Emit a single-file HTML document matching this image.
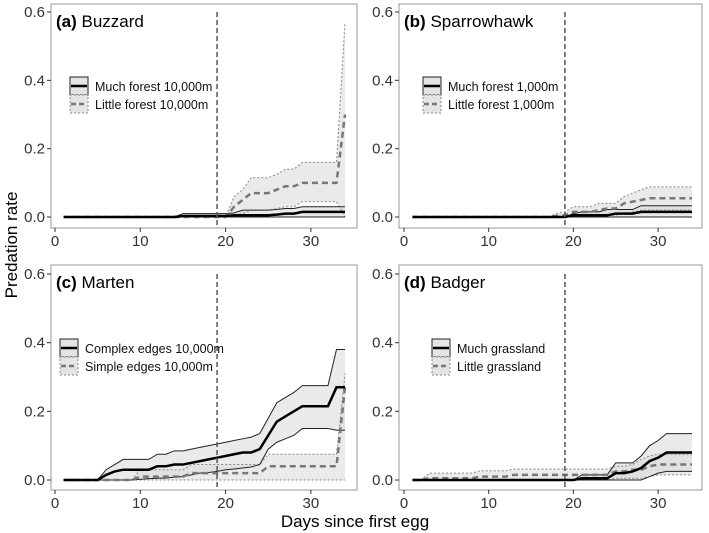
<!DOCTYPE html>
<html><head><meta charset="utf-8"><style>
body{margin:0;background:#fff;}
svg{display:block;font-family:"Liberation Sans",sans-serif;}
</style></head><body>
<svg id="chart" width="709" height="533" xmlns="http://www.w3.org/2000/svg">
<text x="17" y="245" font-size="17" text-anchor="middle" transform="rotate(-90 17 245)" fill="#000">Predation rate</text>
<text x="355" y="527" font-size="17" text-anchor="middle" fill="#000">Days since first egg</text>
</svg>
<script>
const days = Array.from({length:34},(_,i)=>i+1);
const xTicks = [0,10,20,30];
const yTicks = [0,0.2,0.4,0.6];
const yTickLabels = ["0.0","0.2","0.4","0.6"];
const titlesBold = ["(a)","(b)","(c)","(d)"];
const titles = ["Buzzard","Sparrowhawk","Marten","Badger"];
const legendA = ["Much forest 10,000m","Much forest 1,000m","Complex edges 10,000m","Much grassland"];
const legendB = ["Little forest 10,000m","Little forest 1,000m","Simple edges 10,000m","Little grassland"];
const refDay = 19;

// panel a
const aMean1=[0,0,0,0,0,0,0,0,0,0,0,0,0,0,.003,.003,.003,.003,.003,.003,.005,.005,.005,.005,.005,.007,.01,.01,.015,.015,.015,.015,.015,.015];
const aHi1=[0,0,0,0,0,0,0,0,0,0,0,0,0,0,.01,.01,.01,.01,.01,.01,.012,.02,.02,.02,.02,.022,.025,.025,.03,.03,.03,.03,.03,.03];
const aLo1=new Array(34).fill(0);
const aMean2=[0,0,0,0,0,0,0,0,0,0,0,0,0,0,0,0,0,0,0,0,.03,.05,.07,.07,.07,.08,.09,.09,.1,.1,.1,.1,.1,.3];
const aHi2=[0,0,0,0,0,0,0,0,0,0,0,0,0,0,0,0,0,0,0,0,.06,.08,.115,.115,.115,.125,.14,.14,.16,.16,.16,.16,.16,.57];
const aLo2=[0,0,0,0,0,0,0,0,0,0,0,0,0,0,0,0,0,0,0,0,.005,.01,.02,.02,.02,.025,.03,.03,.045,.045,.045,.045,.045,0];
// panel b
const bMean1=[0,0,0,0,0,0,0,0,0,0,0,0,0,0,0,0,0,0,0,.005,.005,.005,.005,.005,.01,.01,.01,.015,.015,.015,.015,.015,.015,.015];
const bHi1=[0,0,0,0,0,0,0,0,0,0,0,0,0,0,0,0,0,0,0,.01,.015,.015,.015,.022,.022,.022,.022,.033,.033,.033,.033,.033,.033,.033];
const bLo1=new Array(34).fill(0);
const bMean2=[0,0,0,0,0,0,0,0,0,0,0,0,0,0,0,0,0,.003,.005,.015,.015,.015,.02,.025,.025,.04,.045,.05,.055,.055,.055,.055,.055,.055];
const bHi2=[0,0,0,0,0,0,0,0,0,0,0,0,0,0,0,0,0,.01,.015,.03,.03,.03,.04,.04,.04,.06,.07,.08,.088,.088,.088,.088,.088,.088];
const bLo2=[0,0,0,0,0,0,0,0,0,0,0,0,0,0,0,0,0,0,0,.005,.005,.005,.005,.005,.005,.01,.015,.02,.02,.02,.02,.02,.02,.02];
// panel c
const cMean1=[0,0,0,0,0,.015,.025,.03,.03,.03,.03,.04,.04,.045,.045,.05,.055,.06,.065,.07,.075,.08,.08,.09,.13,.17,.185,.2,.215,.215,.215,.215,.27,.27];
const cHi1=[0,0,0,0,0,.03,.045,.06,.06,.06,.06,.075,.075,.085,.085,.09,.095,.1,.105,.11,.115,.12,.125,.135,.18,.225,.24,.255,.275,.275,.275,.275,.38,.38];
const cLo1=[0,0,0,0,0,0,0,0,0,.002,.004,.005,.006,.008,.01,.015,.02,.022,.025,.03,.032,.035,.038,.045,.09,.11,.12,.13,.15,.15,.15,.15,.145,.145];
const cMean2=[0,0,0,0,0,0,0,0,0,.01,.01,.01,.01,.01,.01,.02,.02,.02,.02,.02,.02,.02,.02,.02,.04,.04,.04,.04,.04,.04,.04,.04,.04,.27];
const cHi2=[0,0,0,0,0,0,0,0,0,.03,.03,.03,.03,.03,.03,.045,.045,.045,.045,.045,.045,.045,.045,.045,.075,.075,.075,.075,.075,.075,.075,.075,.075,.31];
const cLo2=new Array(34).fill(0);
// panel d
const dMean1=[0,0,0,0,0,0,0,0,0,0,0,0,0,0,0,0,0,0,0,0,.005,.005,.005,.005,.02,.02,.025,.035,.055,.065,.08,.08,.08,.08];
const dHi1=[0,0,0,0,0,0,0,0,0,0,0,0,0,0,0,0,0,0,0,0,.015,.015,.015,.015,.05,.05,.05,.07,.1,.115,.135,.135,.135,.135];
const dLo1=[0,0,0,0,0,0,0,0,0,0,0,0,0,0,0,0,0,0,0,0,0,0,0,0,0,0,0,0,.01,.02,.025,.025,.025,.025];
const dMean2=[0,0,.005,.005,.005,.005,.005,.005,.01,.01,.01,.01,.015,.015,.015,.015,.015,.015,.015,.015,.015,.015,.015,.015,.025,.025,.03,.03,.04,.045,.045,.045,.045,.045];
const dHi2=[0,0,.02,.02,.02,.02,.02,.02,.027,.027,.027,.027,.032,.032,.032,.032,.032,.032,.032,.032,.032,.032,.032,.032,.04,.04,.045,.06,.07,.075,.075,.075,.075,.075];
const dLo2=[0,0,0,0,0,0,0,0,0,0,0,0,0,0,0,0,0,0,0,0,0,0,0,0,.005,.005,.005,.005,.01,.015,.015,.015,.015,.015];

const panelSeries=[
 [aMean1,aLo1,aHi1,aMean2,aLo2,aHi2],
 [bMean1,bLo1,bHi1,bMean2,bLo2,bHi2],
 [cMean1,cLo1,cHi1,cMean2,cLo2,cHi2],
 [dMean1,dLo1,dHi1,dMean2,dLo2,dHi2]];
const frames=[
 {fx:51,fy:4,fw:306,fh:224,x0:55,xs:8.53,y0:217,ys:341.7,lx:70,ly:77},
 {fx:399,fy:4,fw:303,fh:224,x0:404,xs:8.47,y0:217,ys:341.7,lx:423,ly:77},
 {fx:51,fy:265,fw:306,fh:225,x0:55,xs:8.53,y0:480,ys:343.3,lx:60,ly:339},
 {fx:399,fy:265,fw:303,fh:225,x0:404,xs:8.47,y0:480,ys:343.3,lx:432,ly:339}];
const svg=document.getElementById('chart');
const NS="http://www.w3.org/2000/svg";
function mk(tag,attrs,parent){const e=document.createElementNS(NS,tag);for(const k in attrs)e.setAttribute(k,attrs[k]);(parent||svg).appendChild(e);return e;}
frames.forEach((f,p)=>{
 const g=mk('g',{});
 
 
 const X=d=>f.x0+d*f.xs, Y=v=>f.y0-v*f.ys;
 const fr=mk('rect',{x:f.fx,y:f.fy,width:f.fw,height:f.fh,fill:'#fff',stroke:'#999','stroke-width':1},g);
 
 
 xTicks.forEach(t=>{
  mk('line',{x1:X(t),x2:X(t),y1:f.fy+f.fh,y2:f.fy+f.fh+4,stroke:'#333'},g);
  const tx=mk('text',{x:X(t),y:f.fy+f.fh+18,'font-size':15,'text-anchor':'middle',fill:'#333'},g);
  tx.textContent=t;
  
  
 });
 yTicks.forEach((t,i)=>{
  mk('line',{x1:f.fx-4,x2:f.fx,y1:Y(t),y2:Y(t),stroke:'#333'},g);
  const tx=mk('text',{x:f.fx-6,y:Y(t)+5,'font-size':15,'text-anchor':'end',fill:'#333'},g);
  tx.textContent=yTickLabels[i];
  
  
 });
 const s=panelSeries[p];
 const area=(lo,hi)=>{let d='M'+days.map((dd,i)=>X(dd)+','+Y(hi[i])).join('L');
   for(let i=33;i>=0;i--)d+='L'+X(days[i])+','+Y(lo[i]);return d+'Z';};
 const line=arr=>'M'+days.map((dd,i)=>X(dd)+','+Y(arr[i])).join('L');
 const b2=mk('path',{d:area(s[4],s[5]),fill:'#d8d8d8','fill-opacity':0.55,stroke:'none'},g);
 
 
 const b1=mk('path',{d:area(s[1],s[2]),fill:'#d8d8d8','fill-opacity':0.55,stroke:'none'},g);
 
 
 [s[4],s[5]].forEach(a=>mk('path',{d:line(a),fill:'none',stroke:'#888','stroke-width':1,'stroke-dasharray':'2,2'},g));
 [s[1],s[2]].forEach(a=>mk('path',{d:line(a),fill:'none',stroke:'#222','stroke-width':1},g));
 const m2=mk('path',{d:line(s[3]),fill:'none',stroke:'#777','stroke-width':2.5,'stroke-dasharray':'6,4'},g);
 
 
 const m1=mk('path',{d:line(s[0]),fill:'none',stroke:'#000','stroke-width':2.5},g);
 
 
 const vl=mk('line',{x1:X(refDay),x2:X(refDay),y1:Y(0.6),y2:f.y0+8,stroke:'#555','stroke-width':1.5,'stroke-dasharray':'5,3'},g);
 
 
 const tt=mk('text',{x:f.fx+5,y:f.fy+23,'font-size':17,fill:'#000'},g);
 tt.innerHTML='<tspan font-weight="bold">'+titlesBold[p]+'</tspan> '+titles[p];
 
 
 const lg=mk('g',{},g);
 
 
 mk('rect',{x:f.lx,y:f.ly,width:18,height:18,fill:'#e4e4e4',stroke:'#222'},lg);
 mk('line',{x1:f.lx+1,x2:f.lx+17,y1:f.ly+9,y2:f.ly+9,stroke:'#000','stroke-width':2.5},lg);
 mk('rect',{x:f.lx,y:f.ly+18,width:18,height:18,fill:'#e4e4e4',stroke:'#888','stroke-dasharray':'2,2'},lg);
 mk('line',{x1:f.lx+1,x2:f.lx+17,y1:f.ly+27,y2:f.ly+27,stroke:'#777','stroke-width':2.5,'stroke-dasharray':'5,3'},lg);
 const l1=mk('text',{x:f.lx+25,y:f.ly+14,'font-size':12.5,fill:'#111'},lg);l1.textContent=legendA[p];
 
 
 const l2=mk('text',{x:f.lx+25,y:f.ly+32,'font-size':12.5,fill:'#111'},lg);l2.textContent=legendB[p];
 
 
});
</script>
</body></html>
